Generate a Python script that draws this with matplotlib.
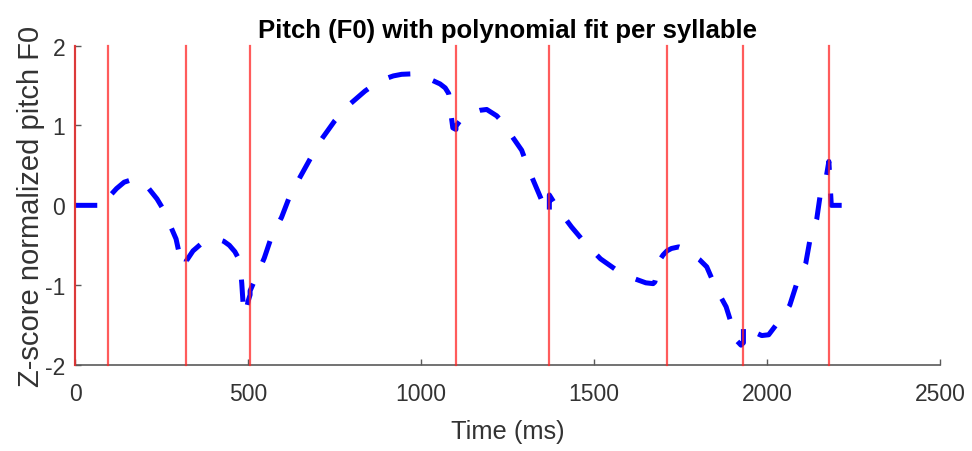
import matplotlib
matplotlib.use('Agg')
import matplotlib.pyplot as plt

# syllable boundaries (ms)
boundaries = [0, 96, 321, 506, 1101, 1371, 1711, 1932, 2179]

# z-scored F0 with per-syllable polynomial fit
time_ms = [0, 96,
           96, 101, 120, 142, 170, 202, 237, 255, 269, 292, 300, 306, 312, 321,
           321, 341, 365, 395, 410, 430, 446, 462, 472, 478, 482, 485, 488, 494, 501, 506,
           506, 523, 547, 568, 597, 621, 650, 682, 713, 751, 790, 838, 881, 920, 944, 970,
           997, 1025, 1055, 1070, 1080, 1084, 1088, 1092, 1101,
           1101, 1113, 1140, 1171, 1190, 1219, 1240, 1259, 1291, 1315, 1339, 1355, 1371,
           1371, 1397, 1435, 1474, 1519, 1565, 1618, 1650, 1671, 1676, 1682, 1686, 1700, 1711,
           1711, 1724, 1745, 1765, 1782, 1805, 1826, 1853, 1882, 1895, 1901, 1914, 1925, 1932,
           1932, 1936, 1960, 1985, 2005, 2033, 2050, 2066, 2086, 2112, 2124, 2144, 2153, 2172, 2179,
           2179, 2186, 2240]
pitch_z = [0, 0,
           0.08, 0.12, 0.21, 0.29, 0.33, 0.27, 0.08, -0.05, -0.19, -0.42, -0.58, -0.72, -0.76, -0.73,
           -0.70, -0.57, -0.48, -0.43, -0.42, -0.45, -0.50, -0.58, -0.66, -0.78, -0.98, -1.18, -1.37, -1.32, -1.19, -1.12,
           -1.07, -0.90, -0.66, -0.39, -0.15, 0.12, 0.35, 0.60, 0.83, 1.06, 1.25, 1.43, 1.56, 1.62, 1.64, 1.645,
           1.62, 1.58, 1.52, 1.47, 1.40, 1.31, 1.10, 0.97, 0.95,
           0.99, 1.06, 1.15, 1.19, 1.20, 1.12, 1.02, 0.89, 0.69, 0.41, 0.165, 0.0, -0.12,
           0.13, -0.05, -0.27, -0.47, -0.67, -0.81, -0.92, -0.97, -0.98, -0.96, -0.85, -0.71, -0.62, -0.57,
           -0.57, -0.54, -0.52, -0.55, -0.61, -0.68, -0.77, -1.04, -1.27, -1.45, -1.57, -1.70, -1.75, -1.72,
           -1.48, -1.50, -1.58, -1.63, -1.62, -1.46, -1.36, -1.25, -0.98, -0.73, -0.44, -0.17, 0.10, 0.37, 0.55,
           0.55, 0.0, 0.0]

x_ticks = [0, 500, 1000, 1500, 2000, 2500]
y_ticks = [-2, -1, 0, 1, 2]

plt.rcParams['font.family'] = ['Liberation Sans', 'DejaVu Sans']
plt.rcParams['lines.scale_dashes'] = False
plt.rcParams['axes.unicode_minus'] = False

fig = plt.figure(figsize=(9.72, 4.52), dpi=100)
ax = fig.add_axes([0.0772, 0.19, 0.8898, 0.707])

line, = ax.plot(time_ms, pitch_z, color='#0000ff', lw=3.6)
line.set_dashes((16, 17))
line.set_dash_capstyle('butt')

for b in boundaries:
    ax.axvline(b, color=(1, 0.15, 0.15), alpha=0.75, lw=1.6, zorder=3, clip_on=False)

ax.set_xlim(0, 2500)
ax.set_ylim(-2, 2)
ax.set_xticks(x_ticks)
ax.set_yticks(y_ticks)

for s in ['top', 'right']:
    ax.spines[s].set_visible(False)
for s in ['left', 'bottom']:
    ax.spines[s].set_color('#5a5a5a')
    ax.spines[s].set_linewidth(1.2)

ax.tick_params(axis='both', direction='in', length=4.5, width=1, color='#5a5a5a',
               labelcolor='#333333', labelsize=16.5)
ax.tick_params(axis='x', pad=12)
ax.tick_params(axis='y', pad=7)

ax.set_xlabel('Time (ms)', fontsize=18.4, color='#333333', labelpad=10)
ax.set_ylabel('Z-score normalized pitch F0', fontsize=21, color='#333333', labelpad=0)
ax.set_title('Pitch (F0) with polynomial fit per syllable', fontsize=18.5,
             fontweight='bold', pad=6)

fig.savefig('out.png', dpi=100)
